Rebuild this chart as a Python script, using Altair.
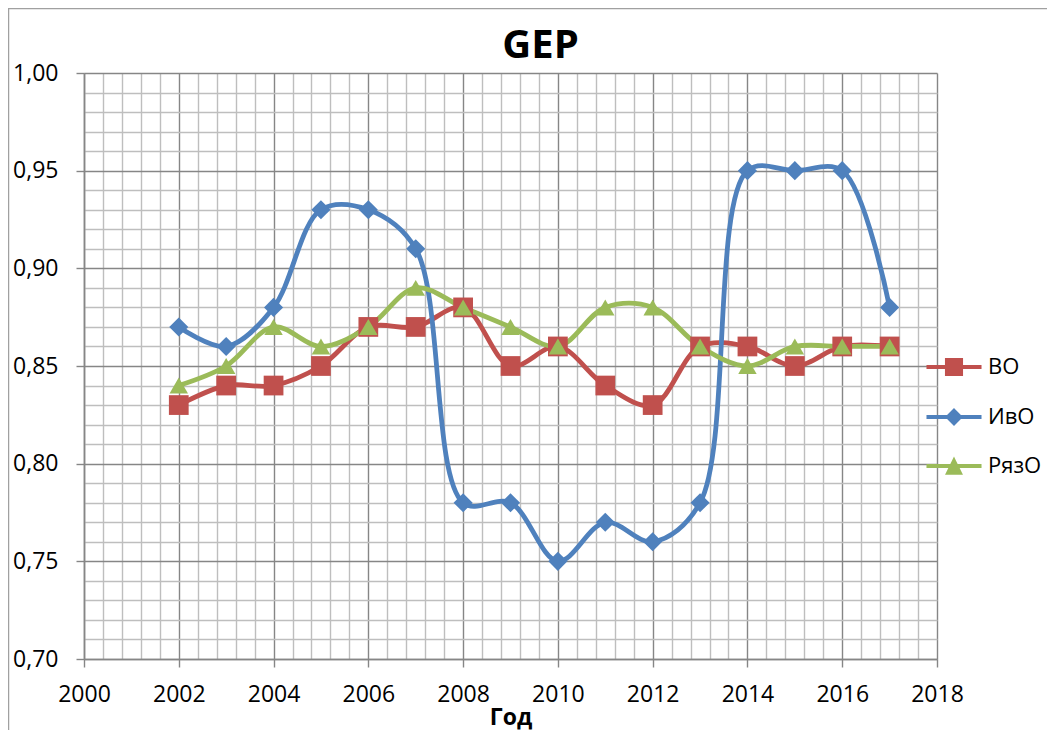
import altair as alt
import pandas as pd

years = list(range(2002, 2018))
vo = [0.83, 0.84, 0.84, 0.85, 0.87, 0.87, 0.88, 0.85, 0.86, 0.84, 0.83, 0.86, 0.86, 0.85, 0.86, 0.86]
ivo = [0.87, 0.86, 0.88, 0.93, 0.93, 0.91, 0.78, 0.78, 0.75, 0.77, 0.76, 0.78, 0.95, 0.95, 0.95, 0.88]
ryazo = [0.84, 0.85, 0.87, 0.86, 0.87, 0.89, 0.88, 0.87, 0.86, 0.88, 0.88, 0.86, 0.85, 0.86, 0.86, 0.86]
series_names = ["ВО", "ИвО", "РязО"]
colors = ["#C0504D", "#4F81BD", "#9BBB59"]
x_ticks = [round(2000 + 0.4 * i, 1) for i in range(46)]
y_ticks = [round(0.70 + 0.01 * i, 2) for i in range(31)]

rows = []
for name, vals in zip(series_names, [vo, ivo, ryazo]):
    for yr, v in zip(years, vals):
        rows.append({"year": yr, "value": v, "series": name})
df = pd.DataFrame(rows)

FONT = "Open Sans"
MAJOR = "#868686"
MINOR = "#BEBEBE"

x_major = "round(datum.value*10) % 20 == 0"
y_major = "round(datum.value*100) % 5 == 0"

x_axis = alt.Axis(
    values=x_ticks, title="Год", grid=True,
    gridColor={"condition": {"test": x_major, "value": MAJOR}, "value": MINOR},
    gridWidth=1.4,
    tickColor=MAJOR, tickWidth=1.4, tickSize=8,
    tickOpacity={"condition": {"test": x_major, "value": 1}, "value": 0},
    labelExpr=f"{x_major} ? format(datum.value, 'd') : ''",
    labelFlush=False, labelOverlap=False, labelBound=False,
    labelFont=FONT, labelFontSize=23, labelColor="black", labelPadding=16,
    domainColor=MAJOR, domainWidth=1.6,
    titleFont=FONT, titleFontSize=23, titleFontWeight="bold", titleColor="black",
    titleBaseline="alphabetic", titleY=65,
)
y_axis = alt.Axis(
    values=y_ticks, title=None, grid=True,
    gridColor={"condition": {"test": y_major, "value": MAJOR}, "value": MINOR},
    gridWidth=1.4,
    tickColor=MAJOR, tickWidth=1.4, tickSize=8,
    tickOpacity={"condition": {"test": y_major, "value": 1}, "value": 0},
    labelExpr=f"{y_major} ? replace(format(datum.value, '.2f'), '.', ',') : ''",
    labelFlush=False, labelOverlap=False, labelBound=False,
    labelFont=FONT, labelFontSize=23, labelColor="black", labelPadding=18,
    domainColor=MAJOR, domainWidth=1.6,
)

x_enc = alt.X("year:Q", scale=alt.Scale(domain=[2000, 2018], nice=False, zero=False), axis=x_axis)
y_enc = alt.Y("value:Q", scale=alt.Scale(domain=[0.70, 1.00], nice=False, zero=False), axis=y_axis)
color_scale = alt.Scale(domain=series_names, range=colors)

base = alt.Chart(df)

lines = base.mark_line(interpolate="catmull-rom", strokeWidth=4.8).encode(
    x=x_enc, y=y_enc,
    color=alt.Color("series:N", scale=color_scale, legend=None),
)

points = base.mark_point(filled=True, opacity=1).encode(
    x=x_enc, y=y_enc,
    color=alt.Color("series:N", scale=color_scale, legend=None),
    shape=alt.Shape("series:N", scale=alt.Scale(domain=series_names, range=["square", "diamond", "triangle-up"]), legend=None),
    size=alt.Size("series:N", scale=alt.Scale(domain=series_names, range=[390, 340, 370]), legend=None),
)

legend_paths = [
    "M-1.72,0H1.72M-0.44,-0.44H0.44V0.44H-0.44Z",
    "M-1.72,0H1.72M0,-0.38L0.38,0L0,0.38L-0.38,0Z",
    "M-1.72,0H1.72M0,-0.31L0.36,0.42H-0.36Z",
]
leg = alt.Legend(
    title=None, orient="none", legendX=852, legendY=276, direction="vertical",
    symbolSize=1024, symbolStrokeWidth=4, symbolOpacity=1,
    labelFont=FONT, labelFontSize=22, labelColor="black", labelOffset=16,
    rowPadding=16, padding=0,
)
legend_layer = base.transform_filter("false").mark_point(filled=True, strokeWidth=4).encode(
    x=x_enc, y=y_enc,
    color=alt.Color("series:N", scale=color_scale, legend=leg),
    stroke=alt.Stroke("series:N", scale=color_scale, legend=leg),
    shape=alt.Shape("series:N", scale=alt.Scale(domain=series_names, range=legend_paths), legend=leg),
)

deco = alt.Chart(pd.DataFrame({"k": [0]}))
left_border = deco.mark_rule(color="#A0A0A0", strokeWidth=1.3).encode(
    x=alt.value(-75.4), y=alt.value(-65), y2=alt.value(657)
)
top_border = deco.mark_rule(color="#A0A0A0", strokeWidth=1.3).encode(
    x=alt.value(-76), x2=alt.value(963), y=alt.value(-64.4)
)

chart = alt.layer(left_border, top_border, lines, points, legend_layer).resolve_scale(
    color="independent", shape="independent", size="independent", stroke="independent"
).properties(
    width=853, height=586,
    title=alt.TitleParams("GEP", font=FONT, fontSize=40, fontWeight="bold", color="black",
                          anchor="middle", baseline="alphabetic", offset=-91, dx=30, frame="group"),
    autosize=alt.AutoSizeParams(type="none"),
    padding={"left": 76, "top": 65, "right": 110, "bottom": 71},
).configure_view(stroke=None)

chart.save("out.html", embed_options={"renderer": "svg", "actions": False})
